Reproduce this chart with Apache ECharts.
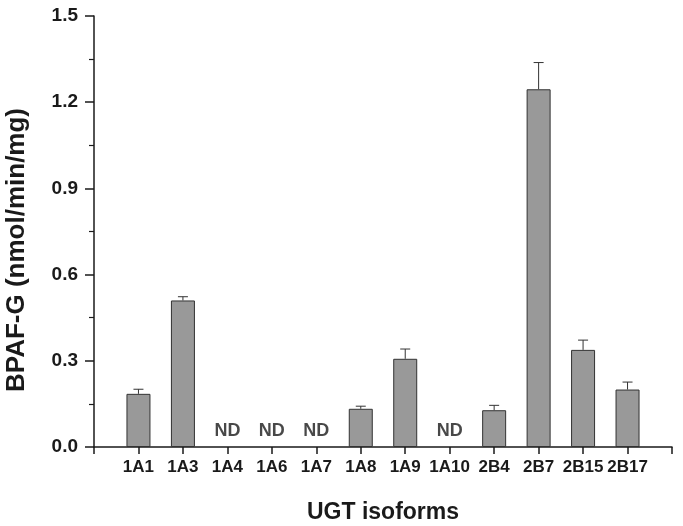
<!DOCTYPE html>
<html>
<head>
<meta charset="utf-8">
<script src="https://cdn.jsdelivr.net/npm/echarts@6/dist/echarts.min.js"></script>
<style>
  html, body { margin: 0; padding: 0; background: #fff; }
  #chart { width: 683px; height: 526px; }
</style>
</head>
<body>
<div id="chart"></div>
<script>
// categories padded with blank ends so the axis runs one step beyond each bar
const isoforms = ['', '1A1', '1A3', '1A4', '1A6', '1A7', '1A8', '1A9', '1A10', '2B4', '2B7', '2B15', '2B17', '']
// null = not detected
const activity = [null, 0.185, 0.51, null, null, null, 0.133, 0.307, null, 0.128, 1.245, 0.338, 0.2, null]
const sd = [null, 0.016, 0.013, null, null, null, 0.009, 0.034, null, 0.017, 0.093, 0.034, 0.026, null]
const ndIndex = [3, 4, 5, 8]
const ndLevel = 0.056
const yTicks = [0, 0.3, 0.6, 0.9, 1.2, 1.5]
const yTitle = 'BPAF-G (nmol/min/mg)'

const axisColor = '#1a1a1a'
const font = 'Liberation Sans, Arial, sans-serif'

const chart = echarts.init(document.getElementById('chart'))

const errData = activity
  .map((v, i) => (v == null ? null : [i, v, v + sd[i]]))
  .filter(d => d)

const option = {
  animation: false,
  grid: { left: 94, right: 11, top: 16, bottom: 79, outerBoundsMode: 'none' },
  graphic: [
    {
      type: 'text',
      x: 17,
      y: 250,
      rotation: Math.PI / 2,
      style: {
        text: yTitle,
        fontFamily: font, fontWeight: 'bold', fontSize: 26, fill: axisColor,
        align: 'center', verticalAlign: 'middle'
      }
    }
  ],
  xAxis: {
    type: 'category',
    data: isoforms,
    boundaryGap: false,
    name: 'UGT isoforms',
    nameLocation: 'middle',
    nameGap: 54,
    nameTextStyle: { fontFamily: font, fontWeight: 'bold', fontSize: 23, color: axisColor },
    axisLine: { lineStyle: { color: axisColor, width: 1.5 } },
    axisTick: { show: true, interval: 0, length: 7, lineStyle: { color: axisColor, width: 1.5 } },
    axisLabel: { interval: 0, margin: 12, fontFamily: font, fontWeight: 'bold', fontSize: 17, color: axisColor },
    splitLine: { show: false }
  },
  yAxis: {
    type: 'value',
    min: yTicks[0],
    max: yTicks[yTicks.length - 1],
    interval: 0.3,
    axisLine: { show: true, lineStyle: { color: axisColor, width: 1.5 } },
    axisTick: { show: true, length: 9, lineStyle: { color: axisColor, width: 1.5 } },
    minorTick: { show: true, splitNumber: 2, length: 5, lineStyle: { color: axisColor, width: 1.2 } },
    axisLabel: {
      margin: 16,
      fontFamily: font, fontWeight: 'bold', fontSize: 19, color: axisColor,
      formatter: v => v.toFixed(1)
    },
    splitLine: { show: false }
  },
  series: [
    {
      type: 'bar',
      data: activity,
      barWidth: 24,
      itemStyle: { color: '#999999', borderColor: '#333', borderWidth: 1 }
    },
    {
      type: 'custom',
      data: errData,
      z: 1,
      renderItem: (params, api) => {
        const base = api.coord([api.value(0), api.value(1)])
        const top = api.coord([api.value(0), api.value(2)])
        const cap = 5
        const style = { stroke: '#333', lineWidth: 1 }
        return {
          type: 'group',
          children: [
            { type: 'line', shape: { x1: base[0], y1: base[1], x2: top[0], y2: top[1] }, style },
            { type: 'line', shape: { x1: top[0] - cap, y1: top[1], x2: top[0] + cap, y2: top[1] }, style }
          ]
        }
      }
    },
    {
      type: 'scatter',
      data: ndIndex.map(i => [i, ndLevel]),
      symbolSize: 0,
      label: {
        show: true,
        position: 'inside',
        formatter: 'ND',
        fontFamily: font, fontWeight: 'bold', fontSize: 18, color: axisColor
      }
    }
  ]
}

chart.setOption(option)
</script>
</body>
</html>
